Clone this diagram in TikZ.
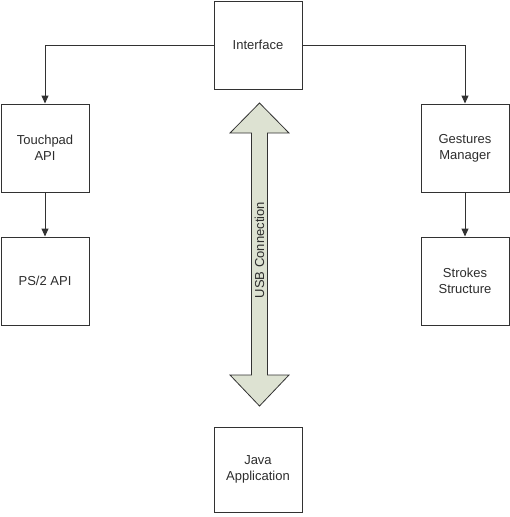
\documentclass[tikz,border=0pt]{standalone}
\usepackage{fontspec}
\setmainfont{Liberation Sans}
\usetikzlibrary{arrows.meta}
\definecolor{edge}{RGB}{50,50,50}
\definecolor{txt}{RGB}{45,45,45}
\definecolor{usbfill}{RGB}{221,226,210}
\begin{document}
\begin{tikzpicture}[x=1pt,y=-1pt,
  box/.style={draw=edge,line width=1pt,fill=white,minimum width=88pt,minimum height=88pt,
    align=center,text=txt,font=\fontsize{13}{16}\selectfont,inner sep=0pt},
  conn/.style={draw=edge,line width=1pt,-{Triangle[width=7pt,length=8pt]}}]
\useasboundingbox (0,0) rectangle (510,517);
\node[box] (iface) at (258,45) {Interface};
\node[box] (touch) at (45,148) {Touchpad\\API};
\node[box] (ps2) at (45,281) {PS/2 API};
\node[box] (gest) at (465,148) {Gestures\\Manager};
\node[box] (strokes) at (465,281) {Strokes\\Structure};
\node[box,minimum height=85pt] (java) at (258,469.5) {Java\\Application};
\draw[conn] (iface.west) -| (touch.north);
\draw[conn] (iface.east) -| (gest.north);
\draw[conn] (touch) -- (ps2);
\draw[conn] (gest) -- (strokes);
\draw[draw=edge,line width=0.8pt,fill=usbfill,line join=miter]
  (259.5,103) -- (289,133) -- (267.5,133) -- (267.5,375) -- (289,375) -- (259.5,406)
  -- (230,375) -- (251.5,375) -- (251.5,133) -- (230,133) -- cycle;
\node[rotate=90,text=txt,font=\fontsize{13}{15}\selectfont,inner sep=0pt] (usblabel) at (259.5,250) {USB Connection};
\end{tikzpicture}
\end{document}
